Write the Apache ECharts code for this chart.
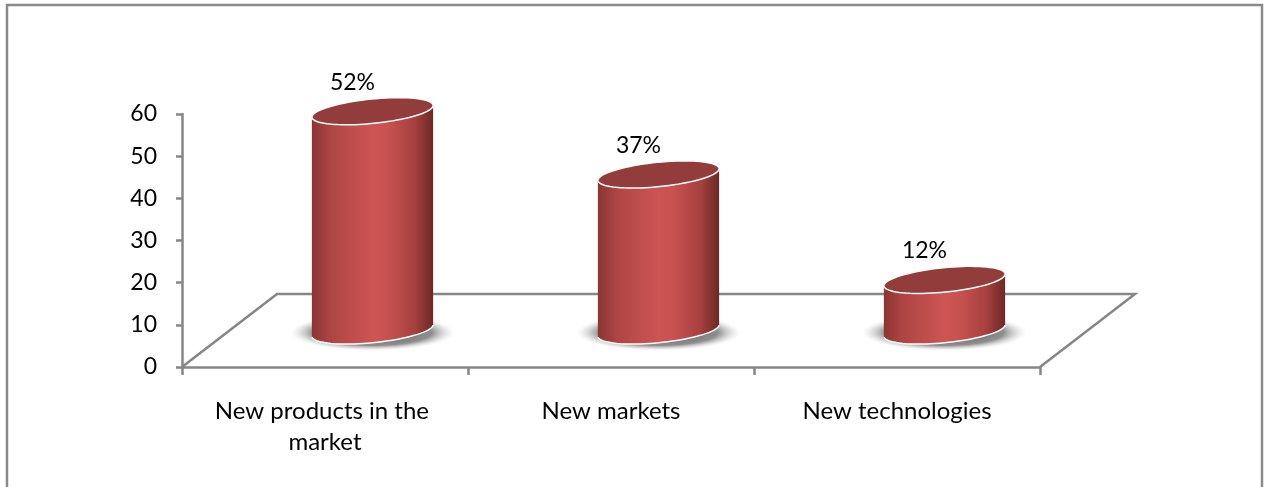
<!DOCTYPE html>
<html>
<head>
<meta charset="utf-8">
<script src="https://cdn.jsdelivr.net/npm/echarts@6/dist/echarts.min.js"></script>
<style>
  html, body { margin: 0; padding: 0; background: #ffffff; }
  #chart { width: 1264px; height: 487px; }
</style>
</head>
<body>
<div id="chart"></div>
<script>
// ---- data ----
const categories = ['New products in the market', 'New markets', 'New technologies'];
const values = [52, 37, 12];
const yTicks = { min: 0, max: 60, interval: 10 };

// ---- style constants ----
const FONT = 'Lato, "Open Sans", sans-serif';
const AXIS_COLOR = '#868686';
const FLOOR_DX = 95;   // depth offset of floor (px)
const FLOOR_DY = 73;
const TILT = -0.1;     // ellipse tilt (rad)

const chart = echarts.init(document.getElementById('chart'), null, { renderer: 'canvas' });

function ellipsePts(cx, cy, a, b, t0, t1, n) {
  const pts = [];
  const c = Math.cos(TILT), s = Math.sin(TILT);
  for (let i = 0; i <= n; i++) {
    const t = t0 + (t1 - t0) * i / n;
    const ex = a * Math.cos(t), ey = b * Math.sin(t);
    pts.push([cx + ex * c - ey * s, cy + ex * s + ey * c]);
  }
  return pts;
}

function renderFloor(params, api) {
  const cs = params.coordSys;
  const x0 = cs.x, x1 = cs.x + cs.width, yb = cs.y + cs.height;
  return {
    type: 'polyline',
    shape: { points: [[x0, yb], [x0 + FLOOR_DX, yb - FLOOR_DY], [x1 + FLOOR_DX, yb - FLOOR_DY], [x1, yb]] },
    style: { stroke: AXIS_COLOR, lineWidth: 2.5, fill: null, lineJoin: 'miter' },
    silent: true
  };
}

function renderCylinder(params, api) {
  const cat = api.value(0), val = api.value(1);
  const base = api.coord([cat, 0]);
  const top = api.coord([cat, val]);
  const bw = api.size([1, 0])[0];
  const a = bw * 0.213, b = a * 0.2;
  const cx = base[0] + FLOOR_DX / 2;
  const by = base[1] - FLOOR_DY / 2;
  const ty = top[1] - FLOOR_DY / 2;
  const t0 = Math.atan(-b * Math.tan(TILT) / a);
  const lower = ellipsePts(cx, by, a, b, t0, t0 + Math.PI, 40);
  const upper = ellipsePts(cx, ty, a, b, t0 + Math.PI, t0 + 2 * Math.PI, 40);
  const topFull = ellipsePts(cx, ty, a, b, 0, 2 * Math.PI, 80);
  const lowerArc = ellipsePts(cx, by, a, b, t0 + 0.05, t0 + Math.PI - 0.05, 40);
  return {
    type: 'group',
    children: [
      {
        type: 'circle',
        shape: { cx: cx, cy: by + 2, r: a * 1.35 },
        scaleY: 0.22, originX: cx, originY: by + 2,
        style: {
          fill: new echarts.graphic.RadialGradient(0.5, 0.5, 0.5, [
            { offset: 0, color: 'rgba(70,70,70,0.95)' },
            { offset: 0.72, color: 'rgba(95,95,95,0.7)' },
            { offset: 1, color: 'rgba(200,200,200,0)' }
          ])
        }
      },
      {
        type: 'polygon',
        shape: { points: lower.concat(upper) },
        style: {
          fill: new echarts.graphic.LinearGradient(0, 0, 1, 0, [
            { offset: 0, color: '#8a3533' },
            { offset: 0.15, color: '#ad4543' },
            { offset: 0.5, color: '#cd5553' },
            { offset: 0.62, color: '#c85250' },
            { offset: 0.85, color: '#a5403e' },
            { offset: 1, color: '#6c2826' }
          ])
        }
      },
      {
        type: 'polyline',
        shape: { points: lowerArc },
        style: { stroke: '#ffffff', lineWidth: 1.5, fill: null }
      },
      {
        type: 'polygon',
        shape: { points: topFull },
        style: { fill: '#923d3b', stroke: '#ffffff', lineWidth: 1.5 }
      },
      {
        type: 'text',
        style: {
          text: val + '%', x: cx - 20, y: ty - 29,
          align: 'center', verticalAlign: 'middle',
          font: '23px ' + FONT, fill: '#000000'
        }
      }
    ]
  };
}

const option = {
  backgroundColor: '#ffffff',
  animation: false,
  graphic: [{
    type: 'rect',
    shape: { x: 7, y: 5, width: 1255, height: 520 },
    style: { fill: null, stroke: '#8a8a8a', lineWidth: 2.5 },
    silent: true
  }],
  grid: { left: 182, right: 224, top: 114, bottom: 120, containLabel: false },
  xAxis: {
    type: 'category',
    data: categories,
    boundaryGap: true,
    axisLine: { show: true, lineStyle: { color: AXIS_COLOR, width: 2.5 } },
    axisTick: { show: true, length: 8, interval: 0, lineStyle: { color: AXIS_COLOR, width: 2.5 } },
    axisLabel: {
      interval: 0, margin: 29, color: '#000', fontSize: 24, fontFamily: FONT,
      lineHeight: 31, width: 250, overflow: 'break', align: 'center'
    },
    splitLine: { show: false }
  },
  yAxis: {
    type: 'value',
    min: yTicks.min, max: yTicks.max, interval: yTicks.interval,
    axisLine: { show: true, lineStyle: { color: AXIS_COLOR, width: 2.5 } },
    axisTick: { show: true, length: 6, lineStyle: { color: AXIS_COLOR, width: 2.5 } },
    axisLabel: { margin: 25, color: '#000', fontSize: 23, fontFamily: FONT },
    splitLine: { show: false }
  },
  series: [
    {
      type: 'custom', z: 1, silent: true,
      renderItem: renderFloor,
      data: [[0, 0]]
    },
    {
      type: 'custom', z: 3, silent: true,
      renderItem: renderCylinder,
      data: values.map((v, i) => [i, v])
    }
  ]
};
chart.setOption(option);
</script>
</body>
</html>
